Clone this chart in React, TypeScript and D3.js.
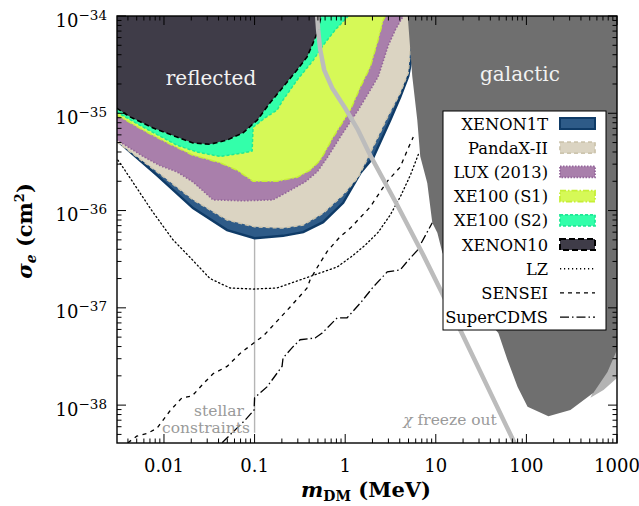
import React from 'react';
import * as d3 from 'd3';

type P = [number, number];

// axis domains (MeV, cm^2)
const X_DOMAIN: [number, number] = [0.00303, 1000];
const Y_DOMAIN: [number, number] = [4.08e-39, 1e-34];

const xTicks = [0.01, 0.1, 1, 10, 100, 1000];
const xTickLabels = ['0.01', '0.1', '1', '10', '100', '1000'];
const yTicks = [1e-38, 1e-37, 1e-36, 1e-35, 1e-34];
const yTickExps = ['−38', '−37', '−36', '−35', '−34'];

// exclusion limits (lower boundary of excluded region)
const xenon1t: P[] = [
  [0.003, 5.2e-36], [0.00327, 4.95e-36], [0.0084, 2.3e-36], [0.0209, 1.06e-36], [0.0497, 6.3e-37],
  [0.1, 5.2e-37], [0.206, 5.5e-37], [0.344, 6.0e-37], [0.571, 7.6e-37], [0.95, 1.2e-36],
  [1.47, 2.43e-36], [2.04, 3.5e-36], [3.14, 8.5e-36], [4.05, 1.47e-35], [4.97, 2.4e-35],
  [5.64, 4.5e-35], [6.25, 1e-34],
];
const pandax: P[] = [
  [0.003, 5.1e-36], [0.0084, 2.5e-36], [0.0209, 1.29e-36], [0.0497, 8.0e-37], [0.1, 6.8e-37],
  [0.206, 6.6e-37], [0.344, 7.1e-37], [0.571, 9.4e-37], [0.95, 1.45e-36], [1.39, 2.2e-36],
  [1.89, 3.9e-36], [2.91, 9.0e-36], [4.05, 1.62e-35], [4.97, 2.6e-35], [5.23, 4.5e-35], [5.8, 1e-34],
];
const lux: P[] = [
  [0.003, 5.35e-36], [0.0059, 3.6e-36], [0.009, 2.9e-36], [0.0139, 2.5e-36], [0.0209, 1.97e-36],
  [0.0348, 1.29e-36], [0.0746, 1.26e-36], [0.16, 1.29e-36], [0.229, 1.55e-36], [0.361, 1.97e-36],
  [0.491, 2.5e-36], [0.633, 3.5e-36], [0.881, 5.7e-36], [1.39, 1.08e-35], [1.89, 1.73e-35],
  [2.32, 2.4e-35], [2.99, 5.0e-35], [3.57, 7.2e-35], [4.37, 1e-34],
];
const xe100S1: P[] = [
  [0.003, 9.6e-36], [0.0059, 6.7e-36], [0.0103, 5.1e-36], [0.0209, 3.7e-36], [0.0416, 3.1e-36],
  [0.0641, 2.6e-36], [0.0962, 2.0e-36], [0.177, 2.0e-36], [0.295, 2.2e-36], [0.41, 2.6e-36],
  [0.53, 3.3e-36], [0.633, 4.4e-36], [0.737, 5.7e-36], [1.14, 1.08e-35], [1.47, 1.86e-35],
  [1.89, 3.0e-35], [2.26, 5.3e-35], [2.63, 9.1e-35], [2.77, 1e-34],
];
const xe100S2: P[] = [
  [0.003, 1.03e-35], [0.0059, 7.2e-36], [0.0139, 4.7e-36], [0.0232, 4.0e-36], [0.0416, 3.6e-36],
  [0.0746, 3.9e-36], [0.094, 4.1e-36], [0.0962, 7.2e-36], [0.131, 9.0e-36], [0.177, 1.08e-35],
  [0.206, 1.37e-35], [0.295, 2.2e-35], [0.443, 3.5e-35], [0.571, 5.0e-35], [0.776, 7.2e-35],
  [1.08, 1e-34],
];
const xenon10: P[] = [
  [0.003, 1.13e-35], [0.0042, 9.2e-36], [0.0075, 7.1e-36], [0.0139, 5.7e-36], [0.0209, 4.95e-36],
  [0.0322, 4.8e-36], [0.0497, 5.3e-36], [0.0746, 6.3e-36], [0.107, 8.5e-36], [0.148, 1.28e-35],
  [0.206, 1.86e-35], [0.295, 2.8e-35], [0.38, 3.8e-35], [0.443, 5.3e-35], [0.491, 6.7e-35],
  [0.53, 9.1e-35], [0.543, 1e-34],
];

// projections
const lz: P[] = [
  [0.0031, 3.3e-36], [0.0037, 2.6e-36], [0.005, 1.71e-36], [0.0075, 9.7e-37], [0.0126, 5.0e-37],
  [0.0194, 3.3e-37], [0.0322, 2.0e-37], [0.0536, 1.6e-37], [0.0962, 1.56e-37], [0.177, 1.6e-37],
  [0.295, 1.89e-37], [0.491, 2.23e-37], [0.816, 2.63e-37], [1.19, 3.4e-37], [1.66, 4.4e-37],
  [2.32, 6.0e-37], [3.14, 9.0e-37], [4.05, 1.38e-36], [5.23, 2.3e-36], [6.57, 4.0e-36],
];
const sensei: P[] = [
  [0.004, 4.1e-39], [0.005, 4.8e-39], [0.0065, 5.1e-39], [0.0084, 5.8e-39], [0.0116, 8.7e-39],
  [0.0158, 1.19e-38], [0.0204, 1.24e-38], [0.027, 1.65e-38], [0.0348, 2.1e-38], [0.0497, 2.5e-38],
  [0.0692, 3.4e-38], [0.0962, 4.3e-38], [0.109, 4.7e-38], [0.124, 5.1e-38], [0.177, 7.3e-38],
  [0.247, 1.02e-37], [0.38, 1.6e-37], [0.41, 1.94e-37], [0.491, 2.6e-37], [0.633, 3.8e-37],
  [0.881, 5.4e-37], [1.14, 6.6e-37], [1.89, 1.09e-36], [2.91, 2.0e-36], [4.05, 2.8e-36],
  [4.97, 4.4e-36], [5.64, 5.7e-36],
];
const superCDMS: P[] = [
  [0.0438, 4.1e-39], [0.0578, 5.3e-39], [0.0785, 7.0e-39], [0.0987, 8.9e-39], [0.1, 1.19e-38],
  [0.137, 1.54e-38], [0.201, 2.5e-38], [0.206, 3.05e-38], [0.26, 3.9e-38], [0.318, 4.7e-38],
  [0.466, 4.9e-38], [0.557, 5.5e-38], [0.816, 7.9e-38], [1.05, 7.9e-38], [1.47, 1.12e-37],
  [2.04, 1.64e-37], [2.91, 2.34e-37], [4.05, 2.45e-37], [4.84, 3.0e-37], [6.25, 3.9e-37],
  [9.15, 7.5e-37],
];

// theory / astrophysics
const galactic: P[] = [
  [4.9, 1e-34], [5.5, 2.4e-35], [6.25, 8.5e-36], [6.74, 3.6e-36], [8.05, 1.92e-36], [9.15, 7.5e-37],
  [10.4, 5.9e-37], [11.8, 3.7e-37], [16.4, 1.94e-37], [29.5, 9.5e-38], [49, 5.5e-38], [62, 2.9e-38],
  [80, 1.54e-38], [103, 9.6e-39], [175, 7.7e-39], [306, 8.9e-39], [550, 1.34e-38], [785, 2.19e-38],
  [1000, 3.7e-38],
];
const galacticAlt: P[] = [[1000, 4.7e-38], [1000, 1.9e-38], [710, 1.43e-38], [509, 1.19e-38]];
const freezeOut: P[] = [
  [0.491, 1e-34], [0.503, 7.2e-35], [0.53, 4.5e-35], [0.586, 2.8e-35], [0.718, 1.82e-35],
  [1.0, 1.13e-35], [1.39, 6.7e-36], [1.89, 3.7e-36], [3.75, 1.14e-36], [7.27, 3.5e-37],
  [18.7, 5.9e-38], [73.7, 4.1e-39], [85, 3.0e-39],
];
const stellarMass = 0.1;
const stellarRange: [number, number] = [5.2e-39, 5.2e-37];

const SERIF = "'DejaVu Serif', serif";

export default function App() {
  const x = d3.scaleLog().domain(X_DOMAIN).range([117, 617]);
  const y = d3.scaleLog().domain(Y_DOMAIN).range([443, 16]);
  const [x0, x1] = x.range();
  const [y0, y1] = y.range();
  const line = d3.line<P>().x((d) => x(d[0])).y((d) => y(d[1]));
  const region = (pts: P[]) => line([...pts, [X_DOMAIN[0] * 0.9, Y_DOMAIN[1] * 1.2], [X_DOMAIN[0] * 0.9, pts[0][1]]])! + 'Z';

  const xMinor: number[] = [];
  for (let e = -3; e <= 2; e++) for (let k = 2; k <= 9; k++) {
    const v = k * Math.pow(10, e);
    if (v > X_DOMAIN[0] && v < X_DOMAIN[1]) xMinor.push(v);
  }
  const yMinor: number[] = [];
  for (let e = -39; e <= -35; e++) for (let k = 2; k <= 9; k++) {
    const v = k * Math.pow(10, e);
    if (v > Y_DOMAIN[0] && v < Y_DOMAIN[1]) yMinor.push(v);
  }

  const bands = [
    { pts: xenon1t, fill: '#2e5b88', stroke: '#0f3b67', dash: 'none', sw: 2.4 },
    { pts: pandax, fill: '#dbd4c2', stroke: '#cdc5ae', dash: '4,3', sw: 1.5 },
    { pts: lux, fill: '#a97fab', stroke: '#93659a', dash: '1.5,1.8', sw: 1.6 },
    { pts: xe100S1, fill: '#d6f957', stroke: '#c6ef36', dash: '6,2,1.5,2', sw: 1.5 },
    { pts: xe100S2, fill: '#33ffaa', stroke: '#1eea96', dash: '3,2', sw: 1.5 },
    { pts: xenon10, fill: '#3f3c48', stroke: '#000000', dash: '5,3', sw: 1.6 },
  ];

  const legend = [
    { label: 'XENON1T', fill: '#2e5b88', stroke: '#0f3b67', dash: 'none', sw: 2 },
    { label: 'PandaX-II', fill: '#dbd4c2', stroke: '#cdc5ae', dash: '4,3', sw: 1.8 },
    { label: 'LUX (2013)', fill: '#a97fab', stroke: '#93659a', dash: '1.5,1.5', sw: 1.8 },
    { label: 'XE100 (S1)', fill: '#d6f957', stroke: '#c6ef36', dash: '6,2,1.5,2', sw: 1.8 },
    { label: 'XE100 (S2)', fill: '#33ffaa', stroke: '#1eea96', dash: '3,2', sw: 1.8 },
    { label: 'XENON10', fill: '#3f3c48', stroke: '#000000', dash: '6,3', sw: 2 },
    { label: 'LZ', line: '1.2,2.8' },
    { label: 'SENSEI', line: '4,4' },
    { label: 'SuperCDMS', line: '9,3,1.5,3' },
  ];

  return (
    <svg width={639} height={506} style={{ position: 'absolute', left: 0, top: 0, background: '#fff' }} fontFamily={SERIF}>
      <defs>
        <clipPath id="plot"><rect x={x0} y={y1} width={x1 - x0} height={y0 - y1} /></clipPath>
      </defs>
      <g clipPath="url(#plot)">
        <line x1={x(stellarMass)} x2={x(stellarMass)} y1={y(stellarRange[1])} y2={y(stellarRange[0])} stroke="#b5b5b5" strokeWidth={1.4} />
        {bands.map((b, i) => (
          <g key={i}>
            <path d={region(b.pts)} fill={b.fill} />
            <path d={line(b.pts)!} fill="none" stroke={b.stroke} strokeWidth={b.sw} strokeDasharray={b.dash} />
          </g>
        ))}
        <path d={line(lz)!} fill="none" stroke="#000" strokeWidth={1.3} strokeDasharray="1.2,2.8" strokeLinecap="round" />
        <path d={line(sensei)!} fill="none" stroke="#000" strokeWidth={1.3} strokeDasharray="4,4.5" />
        <path d={line(superCDMS)!} fill="none" stroke="#000" strokeWidth={1.3} strokeDasharray="9,3,1.5,3" />
        <path d={line(galacticAlt)! + 'Z'} fill="#b3b3b3" />
        <path d={line([...galactic, [X_DOMAIN[1] * 1.2, 3.7e-38], [X_DOMAIN[1] * 1.2, Y_DOMAIN[1] * 1.2], [4.9, Y_DOMAIN[1] * 1.2]])! + 'Z'} fill="#6f6f6f" />
        <path d={line(freezeOut)!} fill="none" stroke="#bcbcbc" strokeWidth={4.5} />
      </g>

      <text x={211} y={85} fill="#f2f2f2" fontSize={20} textAnchor="middle">reflected</text>
      <text x={520} y={81} fill="#f2f2f2" fontSize={20} textAnchor="middle">galactic</text>
      <text x={219} y={416} fill="#9a9a9a" fontSize={15.5} textAnchor="middle">stellar</text>
      <text x={206} y={433} fill="#9a9a9a" fontSize={15.5} textAnchor="middle">constraints</text>
      <text x={450} y={425} fill="#9a9a9a" fontSize={15.5} textAnchor="middle">
        <tspan fontStyle="italic">χ</tspan> freeze out
      </text>

      {/* ticks */}
      <g stroke="#000" strokeWidth={1}>
        {xTicks.map((t) => (
          <g key={'xt' + t}>
            <line x1={x(t)} x2={x(t)} y1={y0} y2={y0 - 9} />
            <line x1={x(t)} x2={x(t)} y1={y1} y2={y1 + 9} />
          </g>
        ))}
        {xMinor.map((t) => (
          <g key={'xm' + t}>
            <line x1={x(t)} x2={x(t)} y1={y0} y2={y0 - 4.5} />
            <line x1={x(t)} x2={x(t)} y1={y1} y2={y1 + 4.5} />
          </g>
        ))}
        {yTicks.map((t) => (
          <g key={'yt' + t}>
            <line x1={x0} x2={x0 + 9} y1={y(t)} y2={y(t)} />
            <line x1={x1} x2={x1 - 9} y1={y(t)} y2={y(t)} />
          </g>
        ))}
        {yMinor.map((t) => (
          <g key={'ym' + t}>
            <line x1={x0} x2={x0 + 4.5} y1={y(t)} y2={y(t)} />
            <line x1={x1} x2={x1 - 4.5} y1={y(t)} y2={y(t)} />
          </g>
        ))}
      </g>
      <rect x={x0} y={y1} width={x1 - x0} height={y0 - y1} fill="none" stroke="#000" strokeWidth={1.4} />

      {xTicks.map((t, i) => (
        <text key={'xl' + t} x={x(t)} y={472} fontSize={18} textAnchor="middle">{xTickLabels[i]}</text>
      ))}
      {yTicks.map((t, i) => (
        <text key={'yl' + t} x={107} y={y(t) + 10.5} fontSize={18} textAnchor="end">
          10<tspan fontSize={13.5} dy={-7}>{yTickExps[i]}</tspan>
        </text>
      ))}

      <text x={366} y={497} fontSize={21} fontWeight="bold" textAnchor="middle">
        <tspan fontStyle="italic">m</tspan><tspan fontSize={14} dy={4}>DM</tspan><tspan dy={-4}> (MeV)</tspan>
      </text>
      <text transform="translate(32,231) rotate(-90)" fontSize={21} fontWeight="bold" textAnchor="middle">
        <tspan fontStyle="italic">σ</tspan><tspan fontSize={14} dy={4} fontStyle="italic">e</tspan><tspan dy={-4}> (cm</tspan><tspan fontSize={13} dy={-8}>2</tspan><tspan dy={8}>)</tspan>
      </text>

      {/* legend */}
      <rect x={443} y={111} width={163} height={219} fill="#fff" stroke="#000" strokeWidth={1} />
      {legend.map((l, i) => {
        const cy = 123.5 + i * 24.2;
        return (
          <g key={l.label}>
            <text x={548} y={cy + 6} fontSize={16.3} textAnchor="end">{l.label}</text>
            {'fill' in l && l.fill ? (
              <rect x={560} y={cy - 5.5} width={35} height={11} fill={l.fill} stroke={l.stroke} strokeWidth={l.sw} strokeDasharray={l.dash} />
            ) : (
              <line x1={560} x2={595} y1={cy} y2={cy} stroke="#000" strokeWidth={1.4} strokeDasharray={(l as any).line} />
            )}
          </g>
        );
      })}
    </svg>
  );
}
